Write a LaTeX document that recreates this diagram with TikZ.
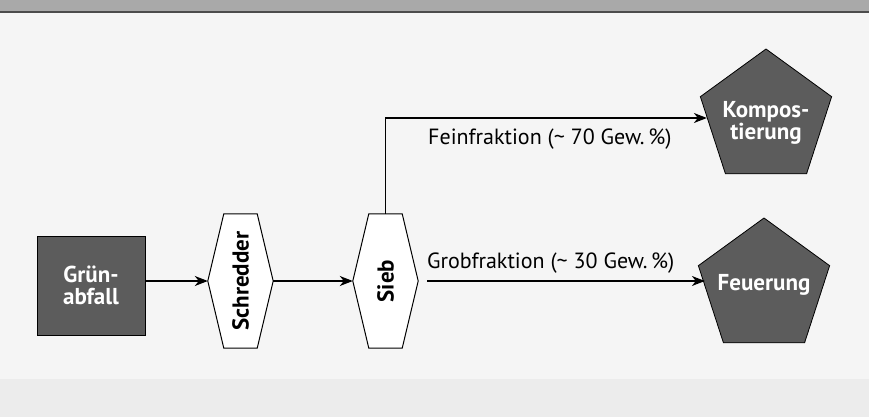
\documentclass[tikz,border=0pt]{standalone}
\usepackage{fontspec}
\setmainfont{PT Sans}
\usetikzlibrary{shapes.geometric,arrows.meta,calc}
\definecolor{bgc}{HTML}{F5F5F5}
\definecolor{bandc}{HTML}{A9A9A9}
\definecolor{lowc}{HTML}{ECECEC}
\definecolor{darkfill}{HTML}{5C5C5C}
\tikzset{
  arr/.style={line width=1.3pt,-{Stealth[length=13pt,width=10pt,inset=4pt]}},
  hexbox/.style={minimum width=65pt,minimum height=134pt,inner sep=0pt},
  hexline/.style={line width=1pt,fill=white},
  darkbox/.style={draw=black,line width=0.8pt,fill=darkfill,text=white,font=\fontsize{23}{24}\selectfont\bfseries,align=center},
  penta/.style={draw=black,line width=0.8pt,fill=darkfill,regular polygon,regular polygon sides=5,minimum size=138pt,inner sep=0pt},
  pentatext/.style={text=white,font=\fontsize{23}{24}\selectfont\bfseries,align=center,inner sep=0pt},
  lbl/.style={font=\fontsize{22}{24}\selectfont,inner sep=0pt},
  hexlbl/.style={font=\fontsize{23}{24}\selectfont\bfseries,rotate=90,inner sep=0pt}
}
\begin{document}
\begin{tikzpicture}[x=1pt,y=-1pt]
\useasboundingbox (0,0) rectangle (869,417);
\fill[bgc] (0,0) rectangle (869,417);
\fill[lowc] (0,379) rectangle (869,417);
\fill[bandc] (0,0) rectangle (869,11);
\fill[black!70] (0,11) rectangle (869,13);
% nodes
\node[darkbox,minimum width=108pt,minimum height=99pt,inner sep=0pt] (gruen) at (91,285.5) {Grün-\\[-2pt]abfall};
\node[hexbox] (schred) at (240.5,281) {};
\node[hexbox] (sieb) at (385.5,281) {};
\draw[hexline] (schred.west) -- ([xshift=16pt]schred.north west) -- ([xshift=-16pt]schred.north east) -- (schred.east) -- ([xshift=-16pt]schred.south east) -- ([xshift=16pt]schred.south west) -- cycle;
\draw[hexline] (sieb.west) -- ([xshift=16pt]sieb.north west) -- ([xshift=-16pt]sieb.north east) -- (sieb.east) -- ([xshift=-16pt]sieb.south east) -- ([xshift=16pt]sieb.south west) -- cycle;
\node[hexlbl] (schredl) at (schred.center) {Schredder};
\node[hexlbl] (siebl) at (sieb.center) {Sieb};
\node[penta] (kompost) at (766,118) {};
\node[pentatext] (kompostl) at (766,123) {Kompos-\\[-2pt]tierung};
\node[penta] (feuer) at (764,287) {};
\node[pentatext] (feuerl) at (764,285) {Feuerung};
% connectors
\draw[arr] (gruen.east |- schred.west) -- (schred.west);
\draw[arr] (schred.east) -- (sieb.west);
\draw[arr] (sieb.north) |- (kompost);
\coordinate (grobstart) at ([xshift=9pt]sieb.east);
\draw[arr] (grobstart) -- (feuer.west |- grobstart);
% labels
\node[lbl,anchor=west] (fein) at (428,139) {Feinfraktion (\textasciitilde\ 70 Gew.\,\%)};
\node[lbl,anchor=west] (grob) at (427,263) {Grobfraktion (\textasciitilde\ 30 Gew.\,\%)};
\end{tikzpicture}
\end{document}
